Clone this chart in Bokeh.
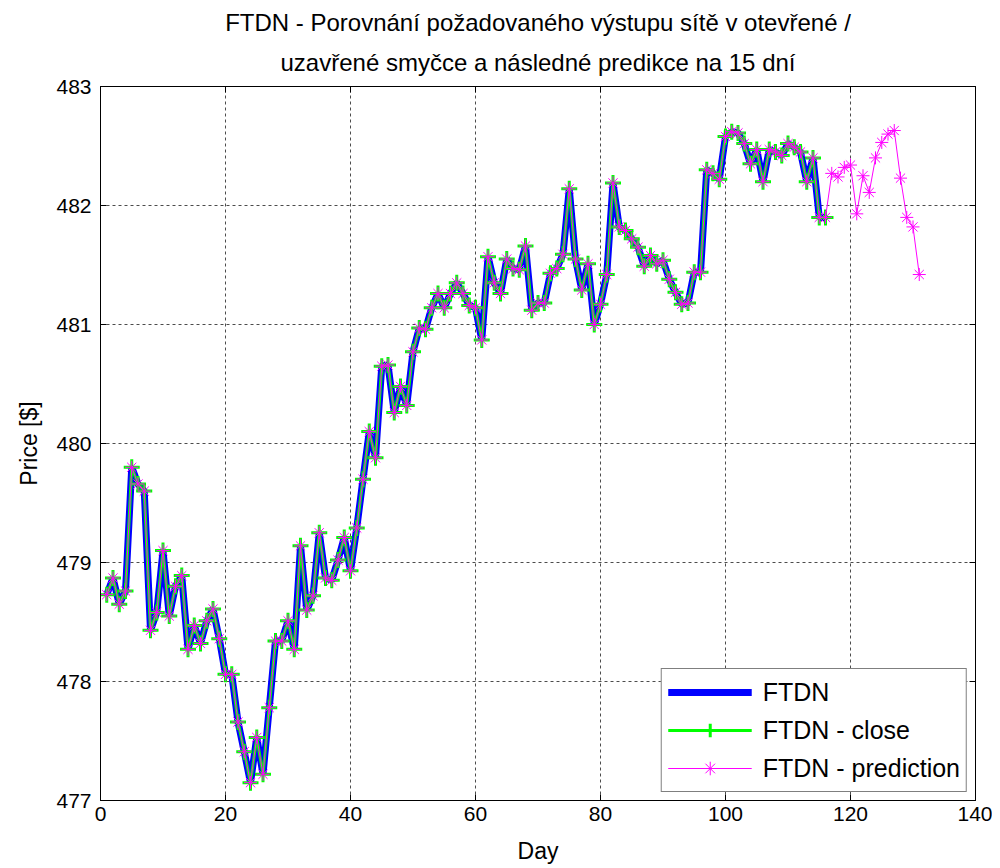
from bokeh.plotting import figure
from bokeh.models import (FixedTicker, LinearAxis, Range1d, Legend, LegendItem, Title)
from bokeh.embed import file_html
from bokeh.resources import INLINE

# ---- data ----
days = list(range(1, 117))
close = [478.73, 478.87, 478.65, 478.76, 479.80, 479.66, 479.60, 478.43, 478.58, 479.10,
         478.55, 478.80, 478.89, 478.27, 478.47, 478.32, 478.51, 478.61, 478.36, 478.06,
         478.06, 477.66, 477.41, 477.15, 477.53, 477.22, 477.78, 478.34, 478.34, 478.51,
         478.27, 479.14, 478.60, 478.72, 479.25, 478.87, 478.85, 479.02, 479.21, 478.93,
         479.29, 479.70, 480.10, 479.88, 480.65, 480.66, 480.26, 480.48, 480.32, 480.77,
         480.97, 480.96, 481.14, 481.26, 481.14, 481.26, 481.35, 481.26, 481.16, 481.14,
         480.87, 481.57, 481.35, 481.26, 481.55, 481.47, 481.46, 481.66, 481.12, 481.18,
         481.18, 481.43, 481.47, 481.59, 482.14, 481.55, 481.29, 481.51, 481.00, 481.17,
         481.42, 482.19, 481.82, 481.79, 481.72, 481.65, 481.49, 481.58, 481.51, 481.54,
         481.38, 481.27, 481.17, 481.18, 481.44, 481.44, 482.30, 482.27, 482.22, 482.58,
         482.62, 482.61, 482.52, 482.35, 482.47, 482.20, 482.47, 482.45, 482.42, 482.52,
         482.49, 482.45, 482.20, 482.40, 481.90, 481.90]
pred_days_future = list(range(117, 132))
pred_future = [482.27, 482.24, 482.32, 482.34, 481.93, 482.25, 482.11, 482.40, 482.53,
               482.60, 482.63, 482.23, 481.90, 481.82, 481.42]
pred_days = days + pred_days_future
pred = close + pred_future

x_ticks = [0, 20, 40, 60, 80, 100, 120, 140]
y_ticks = [477, 478, 479, 480, 481, 482, 483]
title_lines = ["FTDN - Porovnání požadovaného výstupu sítě v otevřené /",
               "uzavřené smyčce a následné predikce na 15 dní"]

FONT = "Liberation Sans"

p = figure(width=992, height=866, output_backend="svg", toolbar_location=None,
           x_range=Range1d(0, 140), y_range=Range1d(477, 483),
           min_border_left=100, min_border_right=17, min_border_top=86, min_border_bottom=64,
           x_axis_label="Day", y_axis_label="Price [$]", title=None)
p.background_fill_color = "white"
p.border_fill_color = "white"
p.outline_line_color = "black"
p.outline_line_width = 1

for ax in (p.xaxis[0], p.yaxis[0]):
    ax.major_label_text_font = FONT
    ax.major_label_text_font_size = "21px"
    ax.major_label_text_color = "black"
    ax.axis_label_text_font = FONT
    ax.axis_label_text_font_size = "23px"
    ax.axis_label_text_font_style = "normal"
    ax.axis_label_text_color = "black"
    ax.major_tick_in = 6
    ax.major_tick_out = 0
    ax.minor_tick_in = 0
    ax.minor_tick_out = 0
    ax.axis_line_color = "black"
    ax.major_tick_line_color = "black"
p.xaxis[0].ticker = FixedTicker(ticks=x_ticks)
p.yaxis[0].ticker = FixedTicker(ticks=y_ticks)
p.xaxis[0].major_label_standoff = 6
p.yaxis[0].major_label_standoff = 9
p.xaxis[0].axis_label_standoff = 14
p.yaxis[0].axis_label_standoff = 11

# mirror axes (ticks only) on top and right
top = LinearAxis(ticker=FixedTicker(ticks=x_ticks), major_label_text_font_size="0px",
                 major_tick_in=6, major_tick_out=0, minor_tick_in=0, minor_tick_out=0,
                 major_label_standoff=0)
right = LinearAxis(ticker=FixedTicker(ticks=y_ticks), major_label_text_font_size="0px",
                   major_tick_in=6, major_tick_out=0, minor_tick_in=0, minor_tick_out=0,
                   major_label_standoff=0)
p.add_layout(top, "above")
p.add_layout(right, "right")

# two centred title lines (first added sits closest to the plot)
p.add_layout(Title(text=title_lines[1], align="center", text_font=FONT,
                   text_font_size="24px", text_font_style="normal",
                   text_color="black", standoff=22), "above")
p.add_layout(Title(text=title_lines[0], align="center", text_font=FONT,
                   text_font_size="24px", text_font_style="normal",
                   text_color="black", standoff=0), "above")

p.xgrid.ticker = FixedTicker(ticks=x_ticks)
p.ygrid.ticker = FixedTicker(ticks=y_ticks)
for g in (p.xgrid[0], p.ygrid[0]):
    g.grid_line_color = "black"
    g.grid_line_alpha = 0.7
    g.grid_line_dash = "3 3"
    g.grid_line_width = 1

blue = p.line(days, close, line_color="#0000ff", line_width=7)
green_l = p.line(days, close, line_color="#00ff00", line_width=3)
green_m = p.scatter(days, close, marker="cross", size=16, line_color="#00ff00", line_width=3)
mag_l = p.line(pred_days, pred, line_color="#ff00ff", line_width=1)
mag_m = p.scatter(pred_days, pred, marker="asterisk", size=13, line_color="#ff00ff", line_width=1)

legend = Legend(items=[
    LegendItem(label="FTDN", renderers=[blue]),
    LegendItem(label="FTDN - close", renderers=[green_l, green_m]),
    LegendItem(label="FTDN - prediction", renderers=[mag_l, mag_m]),
], location="bottom_right")
legend.label_text_font = FONT
legend.label_text_font_size = "25px"
legend.label_text_color = "black"
legend.glyph_width = 84
legend.glyph_height = 34
legend.label_height = 34
legend.label_standoff = 11
legend.spacing = 4
legend.padding = 6
legend.margin = 8
legend.border_line_color = "black"
legend.border_line_width = 1
legend.background_fill_alpha = 1
p.add_layout(legend)

open("out.html", "w").write(file_html(p, INLINE))
